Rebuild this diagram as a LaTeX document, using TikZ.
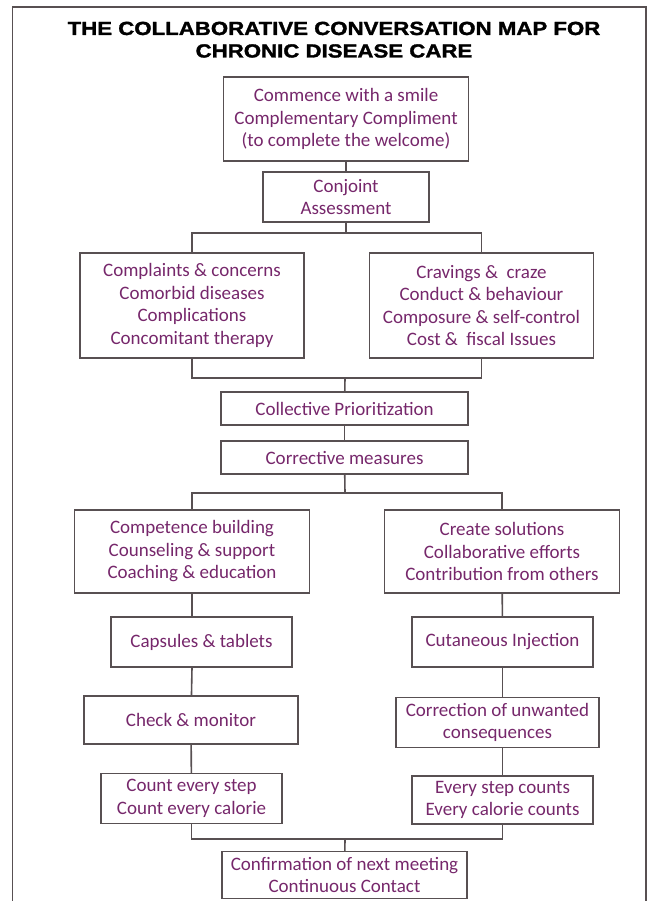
\documentclass[tikz,border=0pt]{standalone}
\usepackage{fontspec}
\setmainfont{Carlito}
\newfontfamily\titlefont[FakeStretch=1.17, FakeBold=1.6]{Liberation Sans Bold}
\definecolor{plum}{HTML}{76276B}
\definecolor{wire}{HTML}{585052}
\usetikzlibrary{positioning}
\tikzstyle{card} = [draw=wire, line width=1.3pt, rectangle, inner sep=2pt]
\tikzstyle{link} = [draw=wire, line width=1.6pt]
\tikzstyle{heading} = [black, font=\titlefont\fontsize{19}{22.5}\selectfont, inner sep=0pt]

\begin{document}
\begin{tikzpicture}[
  x=1pt, y=-1pt,
  every node/.style={plum, align=center, font=\fontsize{19}{22.5}\selectfont},
]
\useasboundingbox (0,0) rectangle (652,901);
\draw[wire, line width=1.2pt] (12.5,901) |- (646,7) -- (646,901);

\node[heading, anchor=base] (title) at (334,35) {THE COLLABORATIVE CONVERSATION MAP FOR};
\node[heading, anchor=base] (subtitle) at (334,57.5) {CHRONIC DISEASE CARE};

% top of the map
\node[card, minimum width=245pt, minimum height=84pt] (commence) at (346,119)
  {Commence with a smile\\Complementary Compliment\\(to complete the welcome)};
\node[card, minimum width=166pt, minimum height=50pt] (conjoint) at (346,197)
  {Conjoint\\Assessment};

\node[card, minimum width=224pt, minimum height=105pt] (complaints) at (192,305.5)
  {Complaints \& concerns\\Comorbid diseases\\Complications\\Concomitant therapy};
\node[card, minimum width=224pt, minimum height=105pt] (cravings) at (481.5,305.5)
  {Cravings \&\ \ craze\\Conduct \& behaviour\\Composure \& self-control\\Cost \&\ \ fiscal Issues};

\node[card, minimum width=247pt, minimum height=33pt] (collective) at (344.5,408.5)
  {Collective Prioritization};
\node[card, minimum width=247pt, minimum height=33pt] (corrective) at (344.5,457.5)
  {Corrective measures};

% two columns
\node[card, minimum width=235pt, minimum height=83pt] (competence) at (192,551.5)
  {Competence building\\Counseling \& support\\Coaching \& education};
\node[card, minimum width=235pt, minimum height=83pt] (create) at (502,551.5)
  {Create solutions\\Collaborative efforts\\Contribution from others};

\node[card, minimum width=181pt, minimum height=50pt] (capsules) at (201.5,642)
  {Capsules \& tablets};
\node[card, minimum width=181pt, minimum height=50pt] (cutaneous) at (502.5,642)
  {Cutaneous Injection};

\node[card, minimum width=214pt, minimum height=48pt] (check) at (191,720)
  {Check \& monitor};
\node[card, minimum width=203pt, minimum height=50pt] (correction) at (497.5,722.5)
  {Correction of unwanted\\consequences};

\node[card, minimum width=181pt, minimum height=50pt] (count) at (191.5,798.5)
  {Count every step\\Count every calorie};
\node[card, minimum width=181pt, minimum height=48pt] (every) at (502.5,800)
  {Every step counts\\Every calorie counts};

\node[card, minimum width=245pt, minimum height=47pt] (confirmation) at (344.5,875)
  {Confirmation of next meeting\\Continuous Contact};

% connectors
\coordinate (split1) at (346,233);
\coordinate (merge1) at (345,378);
\coordinate (split2) at (345,493);
\coordinate (merge2) at (345,839);

\draw[link] (commence) -- (conjoint);
\draw[link] (conjoint) -- (split1);
\draw[link] (split1) -| (complaints);
\draw[link] (split1) -| (cravings);
\draw[link] (complaints) |- (merge1);
\draw[link] (cravings) |- (merge1);
\draw[link] (merge1) -- (collective);
\draw[link] (collective) -- (corrective);
\draw[link] (corrective) -- (split2);
\draw[link] (split2) -| (competence);
\draw[link] (split2) -| (create);

\draw[link] (competence) -- (competence |- capsules.north);
\draw[link] (capsules.south -| competence) -- (check);
\draw[link] (check) -- (count);
\draw[link] (create) -- (cutaneous);
\draw[link] (cutaneous.south) -- (cutaneous.south |- correction.north);
\draw[link] (correction.south -| cutaneous) -- (every);

\draw[link] (count) |- (merge2);
\draw[link] (every) |- (merge2);
\draw[link] (merge2) -- (confirmation);
\end{tikzpicture}
\end{document}
